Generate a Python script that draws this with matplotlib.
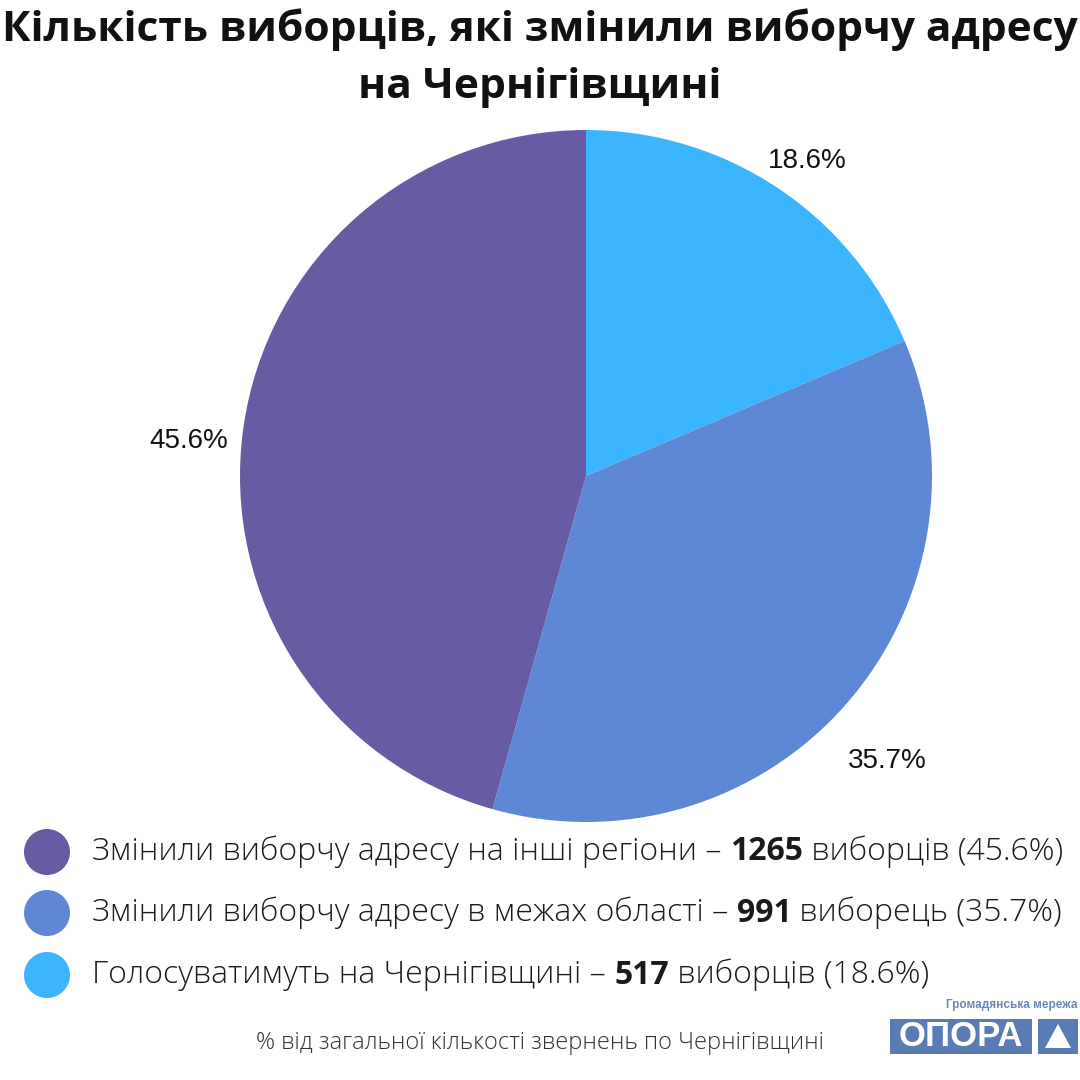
import matplotlib
matplotlib.use("Agg")
import matplotlib.pyplot as plt
from matplotlib.patches import Circle, Rectangle, Polygon

categories = ["Змінили виборчу адресу на інші регіони",
              "Змінили виборчу адресу в межах області",
              "Голосуватимуть на Чернігівщині"]
counts = [1265, 991, 517]
count_words = ["виборців", "виборець", "виборців"]
percents = [45.6, 35.7, 18.6]
colors = ["#675ba3", "#5e88d6", "#3bb5ff"]

title = "Кількість виборців, які змінили виборчу адресу\nна Чернігівщині"
footnote = "% від загальної кількості звернень по Чернігівщині"

W = H = 1080
fig = plt.figure(figsize=(10.8, 10.8), dpi=100)
fig.patch.set_facecolor("white")

# pie (drawn clockwise starting at top: order reversed)
cx, cy, r = 586, 476, 346
ax = fig.add_axes([(cx - r) / W, (H - cy - r) / H, 2 * r / W, 2 * r / H])
order = [2, 1, 0]
wedges, texts, autotexts = ax.pie([percents[i] for i in order],
                                  colors=[colors[i] for i in order],
                                  startangle=90, counterclock=False,
                                  autopct=lambda p: f"{p:.1f}%", pctdistance=1.16,
                                  wedgeprops=dict(linewidth=0))
for t in autotexts:
    t.set_fontfamily("Liberation Sans")
    t.set_fontsize(20)
    t.set_color("#111111")
    x0, y0 = t.get_position()
    t.set_position((x0, y0 - 20 / r))
ax.set_xlim(-1, 1)
ax.set_ylim(-1, 1)
ax.set_aspect("equal")
ax.axis("off")

# title
fig.text(0.5, 1 - 30 / H, title.split("\n")[0], ha="center", va="center", fontsize=30.6,
         fontweight="bold", family="Open Sans", color="#111111")
fig.text(0.5, 1 - 88 / H, title.split("\n")[1], ha="center", va="center", fontsize=30.6,
         fontweight="bold", family="Open Sans", color="#111111")

# legend
fig.canvas.draw()
renderer = fig.canvas.get_renderer()
ys = [852, 913, 975]
for i in range(3):
    y = 1 - ys[i] / H
    fig.patches.append(Circle((47 / W, y), 23 / W, transform=fig.transFigure,
                              facecolor=colors[i], edgecolor="none"))
    parts = [(f"{categories[i]} – ", "light"), (f"{counts[i]}", "bold"),
             (f" {count_words[i]} ({percents[i]}%)", "light")]
    x = 92 / W
    for txt, wt in parts:
        t = fig.text(x, y, txt, ha="left", va="center", fontsize=23,
                     family="Open Sans", fontweight=wt, color="#1a1a1a")
        bb = t.get_window_extent(renderer=renderer)
        x = bb.x1 / W

# footnote
fig.text(540 / W, 1 - 1043 / H, footnote, ha="center", va="center", fontsize=17,
         family="Open Sans", fontweight="light", color="#333333")

# logo
logo_col = "#5a7cb4"
fig.text(1077 / W, 1 - 1005 / H, "Громадянська мережа", ha="right", va="center",
         fontsize=8.5, family="Liberation Sans", color="#6d87b3", fontweight="bold")
fig.patches.append(Rectangle((890 / W, 1 - 1054 / H), 142 / W, 35 / H,
                             transform=fig.transFigure, facecolor=logo_col, edgecolor="none"))
fig.patches.append(Rectangle((1038 / W, 1 - 1054 / H), 40 / W, 35 / H,
                             transform=fig.transFigure, facecolor=logo_col, edgecolor="none"))
fig.text(961 / W, 1 - 1037 / H, "ОПОРА", ha="center", va="center", fontsize=25,
         family="Liberation Sans", fontweight="bold", color="white")
fig.patches.append(Polygon([(1045 / W, 1 - 1048 / H), (1071 / W, 1 - 1048 / H),
                            (1058 / W, 1 - 1024 / H)], closed=True,
                           transform=fig.transFigure, facecolor="white", edgecolor="none"))

fig.savefig("out.png", dpi=100, facecolor="white")
